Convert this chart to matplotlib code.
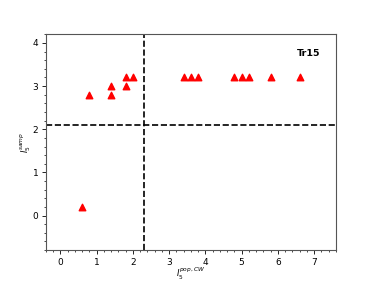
import matplotlib
matplotlib.use("Agg")
import matplotlib.pyplot as plt
from matplotlib.ticker import MultipleLocator

x_vals = [0.6, 0.8, 1.4, 1.4, 1.8, 1.8, 2.0, 3.4, 3.6, 3.8, 4.8, 5.0, 5.2, 5.8, 6.6]
y_vals = [0.2, 2.8, 3.0, 2.8, 3.2, 3.0, 3.2, 3.2, 3.2, 3.2, 3.2, 3.2, 3.2, 3.2, 3.2]
x_thresh = 2.3
y_thresh = 2.1
title = "Tr15"

fig = plt.figure(figsize=(3.74, 2.81), dpi=100)
ax = fig.add_axes([0.123, 0.11, 0.775, 0.768])
ax.scatter(x_vals, y_vals, marker="^", color="red", s=22, zorder=3)
ax.axvline(x_thresh, color="black", linestyle="--", linewidth=1.2)
ax.axhline(y_thresh, color="black", linestyle="--", linewidth=1.2)
ax.set_xlim(-0.4, 7.6)
ax.set_ylim(-0.8, 4.2)
ax.xaxis.set_major_locator(MultipleLocator(1))
ax.xaxis.set_minor_locator(MultipleLocator(0.2))
ax.yaxis.set_major_locator(MultipleLocator(1))
ax.yaxis.set_minor_locator(MultipleLocator(0.2))
ax.tick_params(labelsize=6.5, length=3, width=0.6, pad=2.5)
ax.tick_params(which="minor", length=1.5, width=0.5)
for s in ax.spines.values():
    s.set_color("#555555")
    s.set_linewidth(0.8)
ax.set_xlabel(r"$I_5^{pop,CW}$", fontsize=6, labelpad=-1)
ax.set_ylabel(r"$I_5^{samp}$", fontsize=6, labelpad=0)
ax.text(0.945, 0.91, title, transform=ax.transAxes, ha="right", va="center",
        fontsize=6.8, fontweight="bold")
fig.savefig("out.png", dpi=100)
